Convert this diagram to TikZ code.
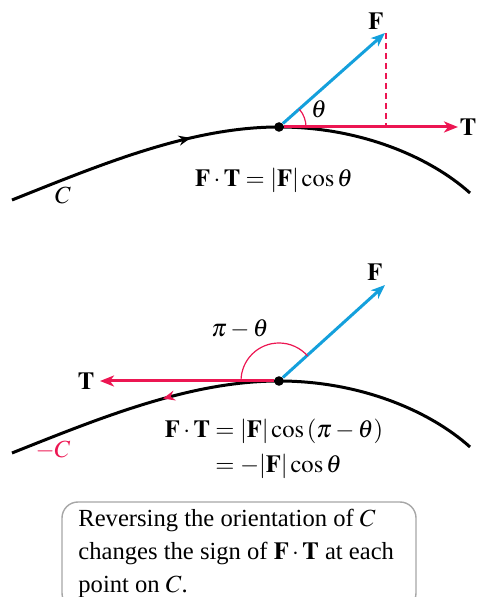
\documentclass[tikz,border=0pt]{standalone}
\usepackage{amsmath}
\usepackage{mathptmx}
\usepackage{fontspec}
\setmainfont{Liberation Serif}
\usepackage{tikz}
\usetikzlibrary{arrows.meta,decorations.markings}

\definecolor{fblue}{RGB}{20,160,220}
\definecolor{tred}{RGB}{236,22,82}

\tikzset{
  vec/.style={line width=1.5pt, -{Stealth[length=7pt,width=5.5pt,inset=2pt]}},
  curve/.style={line width=1.5pt},
  dot/.style={circle, fill, inner sep=0pt, minimum size=4.8pt},
  lab/.style={font=\fontsize{12.3}{16.5}\selectfont},
}

\begin{document}
\begin{tikzpicture}[x=0.5pt,y=0.5pt]
  \useasboundingbox (0,0) rectangle (476,597);
  \clip (0,0) rectangle (476,597);

  % curve C
  \coordinate (c1l) at (12,397);
  \coordinate (c1r) at (470,404);
  \node[dot] (p1) at (279,470) {};
  \draw[curve, postaction={decorate, decoration={markings,
      mark=at position 0.68 with {\arrow{Stealth[length=6pt,width=5pt,inset=2pt]}}}}]
    (c1l) .. controls (100,432) and (190,470) .. (p1.center);
  \draw[curve] (p1.center) .. controls (360,470) and (430,440) .. (c1r);

  \coordinate (f1) at (385,564);
  \coordinate (t1) at (458,470);
  \coordinate (d1) at (386,470);
  \draw[tred, line width=0.7pt, dash pattern=on 3pt off 2pt] (386,564) -- (d1);
  \draw[vec, tred] (p1) -- (t1);
  \draw[vec, fblue] (p1) -- (f1);
  \draw[tred, line width=0.6pt] ([shift={(0:27)}]p1.center) arc (0:41:27);

  \node[lab] (flab1) at (376,576) {$\mathbf{F}$};
  \node[lab] (tlab1) at (468,470) {$\mathbf{T}$};
  \node[lab] (th1)   at (319,488) {$\theta$};
  \node[lab] (clab)  at (63,402)  {$C$};
  \node[lab] (eq1)   at (274,417) {$\mathbf{F}\cdot\mathbf{T} = |\mathbf{F}|\cos\theta$};

  % curve -C
  \coordinate (c2l) at (12,144);
  \coordinate (c2r) at (470,150);
  \node[dot] (p2) at (279,216) {};
  \draw[curve, postaction={decorate, decoration={markings,
      mark=at position 0.62 with {\arrow[tred]{Stealth[reversed,length=6pt,width=5pt,inset=2pt]}}}}]
    (c2l) .. controls (100,179) and (190,216) .. (p2.center);
  \draw[curve] (p2.center) .. controls (360,216) and (430,186) .. (c2r);

  \coordinate (f2) at (385,312);
  \coordinate (t2) at (100,216);
  \draw[vec, tred] (p2) -- (t2);
  \draw[vec, fblue] (p2) -- (f2);
  \draw[tred, line width=0.6pt] ([shift={(180:38)}]p2.center) arc (180:41:38);

  \node[lab] (flab2) at (375,325) {$\mathbf{F}$};
  \node[lab] (tlab2) at (86,216)  {$\mathbf{T}$};
  \node[lab] (pth)   at (240,268) {$\pi-\theta$};
  \node[lab, tred] (mclab) at (53,147) {$-C$};
  \node[lab] (eq2) at (274,149) {$\begin{aligned}
      \mathbf{F}\cdot\mathbf{T} &= |\mathbf{F}|\cos\,(\pi-\theta)\\[-2pt]
      &= -|\mathbf{F}|\cos\theta
    \end{aligned}$};

  % note
  \draw[gray!70, line width=0.7pt, rounded corners=8pt] (62,-12) rectangle (416,95);
  \node[lab, anchor=north west, align=left, inner sep=0pt] (note) at (78,88)
    {Reversing the orientation of $C$\\
     changes the sign of $\mathbf{F}\cdot\mathbf{T}$ at each\\
     point on $C$.};
\end{tikzpicture}
\end{document}
